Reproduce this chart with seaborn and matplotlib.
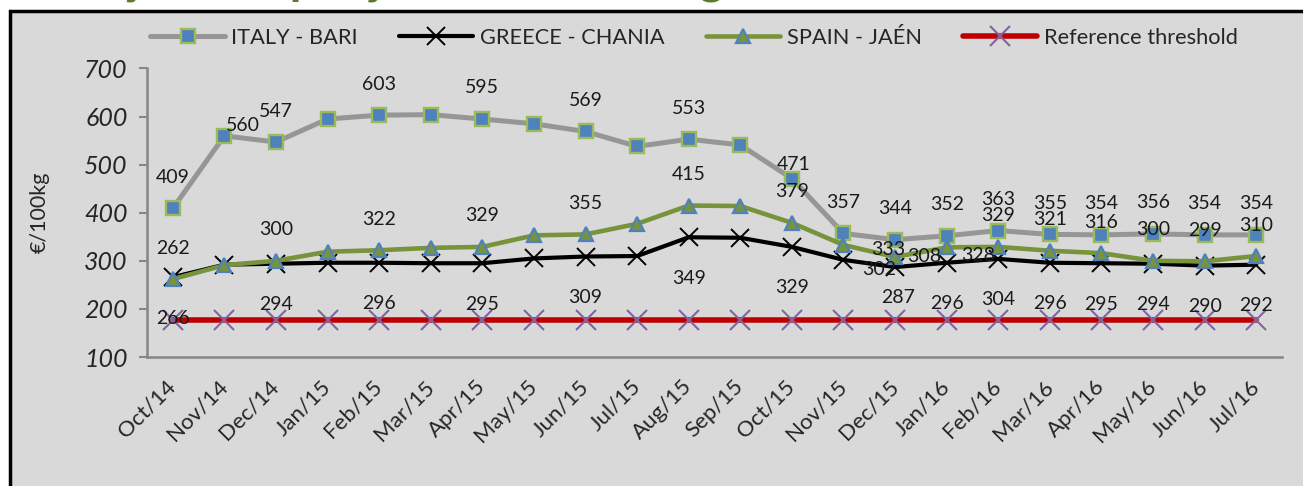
import numpy as np
import pandas as pd
import matplotlib
matplotlib.use("Agg")
import matplotlib.pyplot as plt
from matplotlib.patches import Rectangle
import seaborn as sns

# dados (EUR/100kg)
meses = ["Oct/14", "Nov/14", "Dec/14", "Jan/15", "Feb/15", "Mar/15", "Apr/15", "May/15",
         "Jun/15", "Jul/15", "Aug/15", "Sep/15", "Oct/15", "Nov/15", "Dec/15", "Jan/16",
         "Feb/16", "Mar/16", "Apr/16", "May/16", "Jun/16", "Jul/16"]
italia = [409, 560, 547, 595, 603, 604, 595, 585, 569, 538, 553, 541, 471, 357, 344, 352,
          363, 355, 354, 356, 354, 354]
grecia = [266, 292, 294, 296, 296, 295, 295, 305, 309, 310, 349, 348, 329, 302, 287, 296,
          304, 296, 295, 294, 290, 292]
espanha = [262, 291, 300, 319, 322, 327, 329, 353, 355, 377, 415, 414, 379, 333, 308, 328,
           329, 321, 316, 300, 299, 310]
limiar = [177.9] * len(meses)

# meses com rótulo de dados
rot_italia = [0, 1, 2, 4, 6, 8, 10, 12, 13, 14, 15, 16, 17, 18, 19, 20, 21]
rot_outros = [0, 2, 4, 6, 8, 10, 12, 13, 14, 15, 16, 17, 18, 19, 20, 21]

pos = np.arange(len(meses))
df = pd.DataFrame({"x": pos, "ITALY - BARI": italia, "GREECE - CHANIA": grecia,
                   "SPAIN - JAÉN": espanha, "Reference threshold": limiar})

sns.set_theme(style="white")
plt.rcParams["font.family"] = ["Lato", "DejaVu Sans"]

fig = plt.figure(figsize=(13.03, 4.86), dpi=100)
fig.patches.append(Rectangle((10 / 1303, -0.1), 1.2, 1 - 11 / 486 + 0.1, transform=fig.transFigure,
                             facecolor="#d9d9d9", edgecolor="black", lw=2.5, zorder=-1))
# título cortado no topo, como no original
fig.text(0.0, 1 + 7 / 486, "Evolução dos preços do azeite virgem extra", fontsize=34,
         fontweight="bold", color="#5b7b2b", va="baseline", ha="left")

ax = fig.add_axes([147 / 1303, 1 - 357 / 486, (1282 - 147) / 1303, (357 - 68.5) / 486])
ax.set_facecolor("none")

estilos = {
    "ITALY - BARI": dict(color="#969696", lw=3.6, marker="s", ms=10, mfc="#4f81bd",
                         mec="#9bbb59", mew=1.7),
    "GREECE - CHANIA": dict(color="black", lw=3.0, marker="x", ms=12.5, mec="black", mew=1.4),
    "SPAIN - JAÉN": dict(color="#77933c", lw=3.3, marker="^", ms=9.5, mfc="#77933c",
                         mec="#4f81bd", mew=1.6),
    "Reference threshold": dict(color="#c00000", lw=4.0, marker="x", ms=14.5, mec="#8064a2",
                                mew=1.5),
}
for serie, st in estilos.items():
    sns.lineplot(data=df, x="x", y=serie, ax=ax, label=serie, sort=False, **st)

# posição dos rótulos (pixels)
desloc_padrao = {"ITALY - BARI": (0, 31), "GREECE - CHANIA": (0, -41), "SPAIN - JAÉN": (0, 31)}
desloc_extra = {("ITALY - BARI", 1): (19, 10), ("ITALY - BARI", 12): (2, 14),
                ("SPAIN - JAÉN", 13): (45, -5), ("SPAIN - JAÉN", 14): (29, 0),
                ("SPAIN - JAÉN", 15): (31, -8), ("GREECE - CHANIA", 13): (36, -10),
                ("GREECE - CHANIA", 14): (3, -30)}
for serie, idx in [("ITALY - BARI", rot_italia), ("GREECE - CHANIA", rot_outros),
                   ("SPAIN - JAÉN", rot_outros)]:
    vals = df[serie].values
    for i in idx:
        dx, dy = desloc_extra.get((serie, i), desloc_padrao[serie])
        ax.annotate(f"{vals[i]:.0f}", (pos[i], vals[i]), xytext=(dx, dy),
                    textcoords="offset pixels", ha="center", va="center",
                    fontsize=14, color="#1a1a1a", zorder=10)

ax.set_xlim(-0.5, len(meses) - 0.5)
ax.set_ylim(100, 700)
ax.set_yticks([100, 200, 300, 400, 500, 600, 700])
ax.set_yticklabels([str(v) for v in [100, 200, 300, 400, 500, 600, 700]], fontstyle="italic",
                   fontsize=18)
ax.set_xticks(pos)
ax.set_xticklabels(meses, rotation=45, ha="right", va="center", rotation_mode="anchor",
                   fontsize=16)
ax.set_xticks(np.arange(-0.5, len(meses)), minor=True)
ax.tick_params(axis="x", which="major", length=0, pad=19)
ax.tick_params(axis="x", which="minor", length=6, width=1.5, color="#868686", direction="out")
ax.tick_params(axis="y", length=6, width=1.5, color="#868686", direction="out", pad=8, left=True)
ax.set_xlabel("")
ax.set_ylabel("€/100kg", fontsize=15.5)
ax.yaxis.set_label_coords((50 - 147) / (1282 - 147), 0.5)
sns.despine(ax=ax)
for s in ["left", "bottom"]:
    ax.spines[s].set_color("#868686")
    ax.spines[s].set_linewidth(1.8)

ax.legend(loc="center", bbox_to_anchor=(694 / 1303, 1 - 38 / 486), bbox_transform=fig.transFigure,
          ncol=4, frameon=False, fontsize=15.7, handlelength=3.4, handletextpad=0.3,
          columnspacing=1.9)

fig.savefig("out.png", dpi=100)
